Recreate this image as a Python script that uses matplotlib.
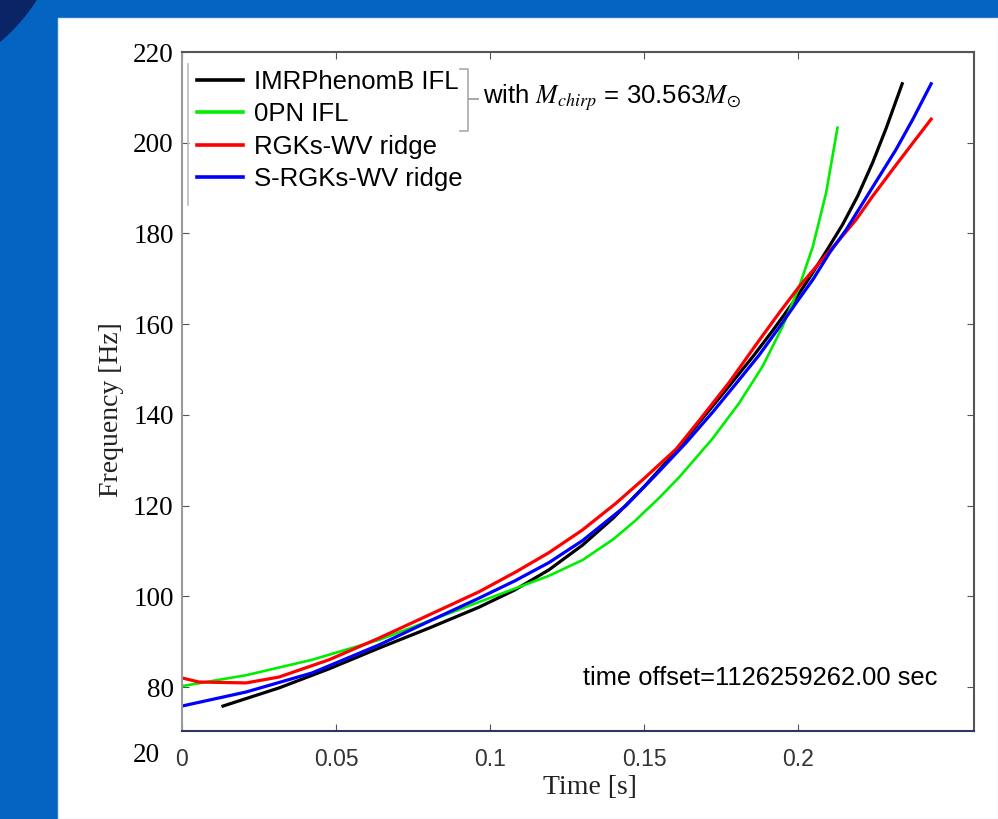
import matplotlib
matplotlib.use("Agg")
import matplotlib.pyplot as plt
from matplotlib.lines import Line2D
from matplotlib.patches import Ellipse, Rectangle

# values (time in s, frequency in Hz)
imr_t = [0.0133, 0.0315, 0.0477, 0.064, 0.0802, 0.0964, 0.108, 0.119, 0.130, 0.140, 0.150, 0.1581,
         0.1679, 0.1765, 0.1852, 0.1917, 0.1981, 0.2036, 0.209, 0.2144, 0.2193, 0.2241, 0.2285, 0.2337]
imr_f = [75.8, 79.8, 84.0, 88.6, 93.0, 97.6, 101.4, 105.8, 111.3, 117.3, 124.2, 130.3,
         138.4, 145.5, 152.8, 158.6, 164.6, 170.2, 176.0, 182.0, 188.3, 195.6, 203.2, 213.0]

pn0_t = [0.0, 0.0208, 0.0422, 0.064, 0.0974, 0.119, 0.130, 0.140, 0.1468, 0.155, 0.1614, 0.1722,
         0.1808, 0.1884, 0.1949, 0.2003, 0.2047, 0.209, 0.2127]
pn0_f = [80.2, 82.6, 86.0, 90.4, 99.0, 104.5, 108.0, 112.6, 116.5, 121.8, 126.3, 134.8,
         142.6, 150.7, 159.5, 168.3, 177.1, 188.9, 203.3]

rgk_t = [0.0, 0.0055, 0.0208, 0.0315, 0.0477, 0.064, 0.0802, 0.0964, 0.1084, 0.119, 0.1299, 0.1408,
         0.150, 0.1604, 0.168, 0.1776, 0.1863, 0.1938, 0.2003, 0.2068, 0.2133, 0.2187, 0.2241, 0.2306,
         0.2371, 0.2431]
rgk_f = [82.0, 81.1, 80.9, 82.2, 86.0, 90.8, 95.9, 101.0, 105.4, 109.6, 114.6, 120.5,
         126.0, 132.5, 138.9, 147.2, 155.5, 162.5, 168.3, 173.5, 178.6, 183.0, 188.2, 194.1,
         199.9, 205.2]

srgk_t = [0.0, 0.0208, 0.0422, 0.064, 0.0802, 0.0964, 0.108, 0.119, 0.130, 0.1441, 0.1538, 0.1635,
          0.1722, 0.1798, 0.1873, 0.1938, 0.1992, 0.2047, 0.2101, 0.2155, 0.2209, 0.2263, 0.2317,
          0.2371, 0.2431]
srgk_f = [75.8, 78.9, 83.1, 89.3, 94.5, 99.6, 103.4, 107.4, 112.3, 120.0, 126.8, 133.8,
          140.6, 146.9, 153.2, 159.3, 164.6, 169.8, 175.7, 180.8, 186.7, 192.6, 198.5,
          205.1, 213.0]

x_ticks = [0, 0.05, 0.1, 0.15, 0.2]
x_tick_labels = ["0", "0.05", "0.1", "0.15", "0.2"]
y_ticks = [80, 100, 120, 140, 160, 180, 200, 220]

W, H = 998, 819


def fx(px):
    return px / W


def fy(py):
    return 1 - py / H


plt.rcParams["mathtext.fontset"] = "stix"

fig = plt.figure(figsize=(W / 100, H / 100), dpi=100)
fig.patch.set_facecolor("#0563c1")

# slide background: dark disc in the corner, white panel
fig.patches.append(Ellipse((fx(-120), fy(-100)), 2 * 186 / W, 2 * 186 / H, transform=fig.transFigure,
                           facecolor="#0b2466", edgecolor="none", zorder=0))
fig.patches.append(Rectangle((fx(58), 0), 1 - fx(58), fy(18), transform=fig.transFigure,
                             facecolor="white", edgecolor="#dfe8f5", lw=1, zorder=1))

ax = fig.add_axes([fx(182), fy(731), fx(974) - fx(182), fy(52) - fy(731)])
ax.set_zorder(2)

ax.plot(imr_t, imr_f, color="black", lw=2.3, label="IMRPhenomB IFL")
ax.plot(pn0_t, pn0_f, color="#00ee00", lw=1.9, label="0PN IFL")
ax.plot(rgk_t, rgk_f, color="#ff0000", lw=2.3, label="RGKs-WV ridge")
ax.plot(srgk_t, srgk_f, color="#0000ff", lw=2.3, label="S-RGKs-WV ridge")

ax.set_xlim(0, 0.257)
ax.set_ylim(70.3, 220)
ax.set_xticks(x_ticks)
ax.set_xticklabels(x_tick_labels, fontsize=16.5, color="#333333", family="Liberation Sans")
ax.set_yticks(y_ticks)
ax.set_yticklabels([str(v) for v in y_ticks], fontsize=19.5, family="Liberation Serif")
ax.tick_params(axis="both", direction="in", length=5, top=True, right=True, color="#555555")
ax.tick_params(axis="x", pad=12)
ax.tick_params(axis="y", pad=6)

ax.spines["left"].set_color("#9a9a9a")
ax.spines["bottom"].set_color("#2d3566")
ax.spines["top"].set_color("#555555")
ax.spines["right"].set_color("#555555")
for s in ax.spines.values():
    s.set_linewidth(1.5)

leg = ax.legend(loc="upper left", bbox_to_anchor=(fx(197), fy(70)), bbox_transform=fig.transFigure,
                frameon=False, prop={"family": "Liberation Sans", "size": 18.5},
                handlelength=1.8, handletextpad=0.4, labelspacing=0.33, borderpad=0, borderaxespad=0)
for line in leg.get_lines():
    line.set_linewidth(2.6)

# thin bar left of legend and bracket round the first two entries
fig.add_artist(Line2D([fx(188), fx(188)], [fy(64), fy(205)], color="#bbbbbb", lw=1.2, zorder=3))
fig.add_artist(Line2D([fx(460), fx(468), fx(468), fx(478), fx(468), fx(468), fx(460)],
                      [fy(69), fy(69), fy(99), fy(99), fy(99), fy(131), fy(131)],
                      color="#aaaaaa", lw=1.2, zorder=3))
fig.text(fx(483), fy(98), r"with $M_{chirp}$ = 30.563$M_{\odot}$", fontsize=18.5,
         family="Liberation Sans", va="center", ha="left", zorder=3)

fig.text(fx(937), fy(678), "time offset=1126259262.00 sec", fontsize=18.4,
         family="Liberation Sans", va="center", ha="right", zorder=3)

fig.text(fx(590), fy(788), "Time [s]", fontsize=20, family="Liberation Serif",
         ha="center", va="center", color="#222222")
fig.text(fx(112), fy(410), "Frequency [Hz]", fontsize=20, family="Liberation Serif",
         ha="center", va="center", rotation=90, color="#222222")
fig.text(fx(160), fy(755), "20", fontsize=19.5, family="Liberation Serif", ha="right", va="center")

fig.savefig("out.png", dpi=100)
